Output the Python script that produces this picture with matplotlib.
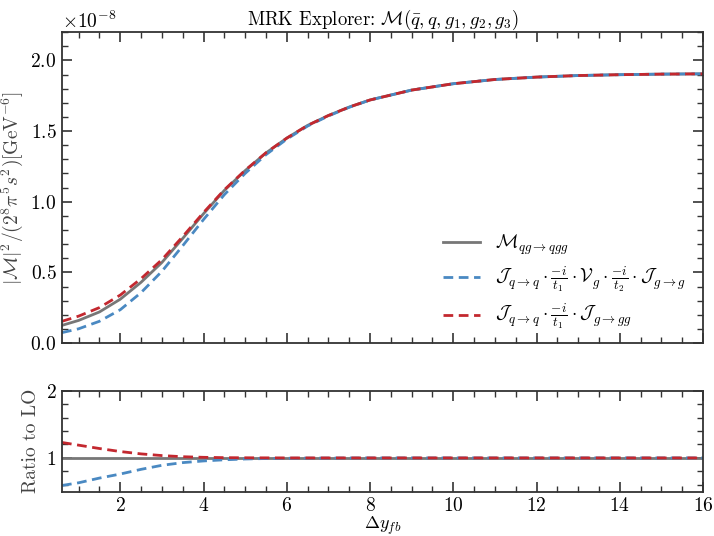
import matplotlib
matplotlib.use("Agg")
import matplotlib.pyplot as plt
import numpy as np
from matplotlib.ticker import MultipleLocator

plt.rcParams["font.family"] = "serif"
plt.rcParams["font.serif"] = ["cmr10", "DejaVu Serif"]
plt.rcParams["mathtext.fontset"] = "cm"
plt.rcParams["axes.formatter.use_mathtext"] = True
plt.rcParams["font.size"] = 14

# rapidity separation
dy = [0.6, 1.0, 1.5, 2.0, 2.5, 3.0, 3.5, 4.0, 4.5, 5.0, 5.5, 6.0, 6.5, 7.0,
      7.5, 8.0, 9.0, 10.0, 11.0, 12.0, 13.0, 14.0, 15.0, 16.0]
# LO matrix element, in units of 1e-8 GeV^-6
lo = [0.125, 0.16, 0.22, 0.31, 0.43, 0.57, 0.74, 0.915, 1.08, 1.22, 1.345, 1.45,
      1.54, 1.61, 1.67, 1.72, 1.79, 1.835, 1.865, 1.882, 1.893, 1.899, 1.903, 1.905]
# ratio to LO of the two MRK approximations
ratio_vg = [0.59, 0.63, 0.70, 0.76, 0.83, 0.89, 0.93, 0.955, 0.972, 0.984, 0.991,
            0.995, 0.997, 0.998, 0.999, 1.0, 1.0, 1.0, 1.0, 1.0, 1.0, 1.0, 1.0, 1.0]
ratio_jgg = [1.23, 1.19, 1.14, 1.095, 1.06, 1.035, 1.018, 1.009, 1.004, 1.002, 1.001,
             1.0, 1.0, 1.0, 1.0, 1.0, 1.0, 1.0, 1.0, 1.0, 1.0, 1.0, 1.0, 1.0]

scale = 1e-8
dy = np.array(dy)
lo_vals = np.array(lo) * scale
vg_vals = lo_vals * np.array(ratio_vg)
jgg_vals = lo_vals * np.array(ratio_jgg)

gray = "#777777"
blue = "#4a89c2"
red = "#c3282f"

fig = plt.figure(figsize=(7.14, 5.36), dpi=100)
ax = fig.add_axes([0.0868, 0.360, 0.8978, 0.580])
axr = fig.add_axes([0.0868, 0.083, 0.8978, 0.188])

ax.plot(dy, lo_vals, color=gray, lw=2.0,
        label=r"$\mathcal{M}_{qg\to qgg}$")
ax.plot(dy, vg_vals, color=blue, lw=2.0, ls=(0, (3.5, 2)),
        label=r"$\mathcal{J}_{q\to q}\cdot\frac{-i}{t_1}\cdot\mathcal{V}_g\cdot\frac{-i}{t_2}\cdot\mathcal{J}_{g\to g}$")
ax.plot(dy, jgg_vals, color=red, lw=2.0, ls=(0, (3.5, 2)),
        label=r"$\mathcal{J}_{q\to q}\cdot\frac{-i}{t_1}\cdot\mathcal{J}_{g\to gg}$")

ax.set_xlim(0.6, 16)
ax.set_ylim(0, 2.2e-8)
ax.set_title(r"MRK Explorer: $\mathcal{M}(\bar{q},q,g_1,g_2,g_3)$", fontsize=13.5, pad=5)
ax.set_ylabel(r"$|\mathcal{M}|^2/(2^8\pi^5 s^2)[\mathrm{GeV}^{-6}]$", color="#444444",
              labelpad=4)
ax.yaxis.set_major_locator(MultipleLocator(0.5e-8))
ax.yaxis.set_minor_locator(MultipleLocator(0.1e-8))
ax.legend(loc="lower right", frameon=False, fontsize=13.5, handlelength=2.0,
          handletextpad=0.8, labelspacing=0.4, bbox_to_anchor=(1.0, -0.02))

axr.axhline(1.0, color=gray, lw=2.0)
axr.plot(dy, ratio_vg, color=blue, lw=2.0, ls=(0, (3.5, 2)))
axr.plot(dy, ratio_jgg, color=red, lw=2.0, ls=(0, (3.5, 2)))
axr.set_xlim(0.6, 16)
axr.set_ylim(0.5, 2.0)
axr.yaxis.set_major_locator(MultipleLocator(1.0))
axr.yaxis.set_minor_locator(MultipleLocator(0.2))
axr.set_ylabel("Ratio to LO", color="#444444")
axr.set_xlabel(r"$\Delta y_{fb}$", fontsize=13, labelpad=0)

for a in (ax, axr):
    a.xaxis.set_major_locator(MultipleLocator(2))
    a.xaxis.set_minor_locator(MultipleLocator(0.5))
    a.tick_params(which="both", direction="in", top=True, right=True, color="#333333")
    a.tick_params(which="major", length=7, width=1.2, pad=4)
    a.tick_params(which="minor", length=4, width=1.0)
    for s in a.spines.values():
        s.set_linewidth(1.3)
        s.set_color("#333333")
ax.tick_params(labelbottom=False)

fig.savefig("out.png", dpi=100)
